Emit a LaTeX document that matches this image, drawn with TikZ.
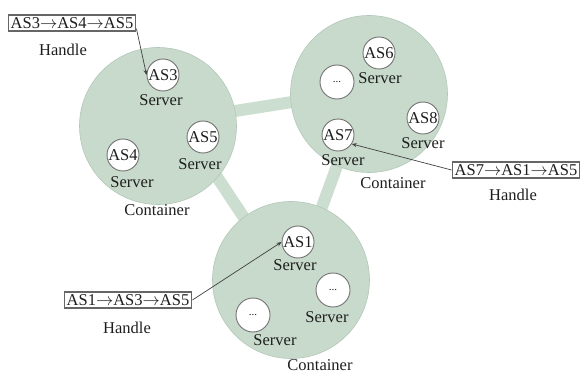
\documentclass[tikz,border=0pt]{standalone}
\usepackage{fontspec}
\setmainfont{Liberation Serif}
\usetikzlibrary{arrows.meta,backgrounds}
\definecolor{contfill}{HTML}{C7DACB}
\definecolor{contline}{HTML}{B3C7B8}
\definecolor{linkcol}{HTML}{CCDECF}
\definecolor{txt}{HTML}{1E1E1E}
\newcommand{\hop}{\ensuremath{\rightarrow}}
\begin{document}
\begin{tikzpicture}[x=1pt,y=-1pt,
  font=\fontsize{16.5}{18}\selectfont, text=txt,
  container/.style={circle, fill=contfill, draw=contline, line width=0.6pt,
    minimum size=157pt, inner sep=0pt},
  srv/.style={circle, fill=white, draw=black!55, line width=0.9pt,
    minimum size=32pt, inner sep=0pt},
  dots/.style={srv, minimum size=34pt, font=\fontsize{11}{12}\selectfont},
  lbl/.style={inner sep=0pt},
  handlebox/.style={draw=black!60, line width=1.3pt, inner sep=2.5pt,
    fill=white},
  link/.style={draw=linkcol, line width=12pt, shorten <=-10pt, shorten >=-10pt},
  ptr/.style={draw=black!75, line width=0.7pt,
    -{Stealth[length=5pt,width=4pt]}}]
\useasboundingbox (0,0) rectangle (581,374);

% containers
\node[container] (c1) at (158,126) {};
\node[container] (c2) at (369,94) {};
\node[container] (c3) at (291,280) {};

% links between containers, behind them
\begin{scope}[on background layer]
  \draw[link] (c1.11) -- (c2.186);
  \draw[link] (c1.-41) -- (c3.127);
  \draw[link] (c2.-114) -- (c3.67);
\end{scope}

% container on the left
\node[srv] (as3) at (163,75) {AS3};
\node[lbl] at (161,100) {Server};
\node[srv] (as5) at (203,137) {AS5};
\node[lbl] at (200,164) {Server};
\node[srv] (as4) at (123,155) {AS4};
\node[lbl] at (132,182) {Server};
\node[lbl] at (157,210) {Container};

% container on the right
\node[srv] (as6) at (379,53) {AS6};
\node[lbl] at (380,78) {Server};
\node[dots] (d2) at (337,82) {...};
\node[srv] (as8) at (423,118) {AS8};
\node[lbl] at (423,143) {Server};
\node[srv] (as7) at (338,135) {AS7};
\node[lbl] at (343,160) {Server};
\node[lbl] at (393,183) {Container};

% container at the bottom
\node[srv] (as1) at (298,242) {AS1};
\node[lbl] at (295,265) {Server};
\node[dots] (d3a) at (333,290) {...};
\node[lbl] at (327,317) {Server};
\node[dots] (d3b) at (253,315) {...};
\node[lbl] at (275,340) {Server};
\node[lbl] at (320,365) {Container};

% handles
\node[handlebox] (h1) at (72,23) {AS3\hop AS4\hop AS5};
\node[lbl] at (63,50) {Handle};
\node[handlebox] (h2) at (516,170) {AS7\hop AS1\hop AS5};
\node[lbl] at (513,195) {Handle};
\node[handlebox] (h3) at (128,300) {AS1\hop AS3\hop AS5};
\node[lbl] at (127,328) {Handle};

% pointers from handles to servers
\draw[ptr] ([yshift=3pt]h1.south east) -- (as3.west);
\draw[ptr] (h2.west) -- (as7.-33);
\draw[ptr] (h3.east) -- (as1.west);
\end{tikzpicture}
\end{document}
